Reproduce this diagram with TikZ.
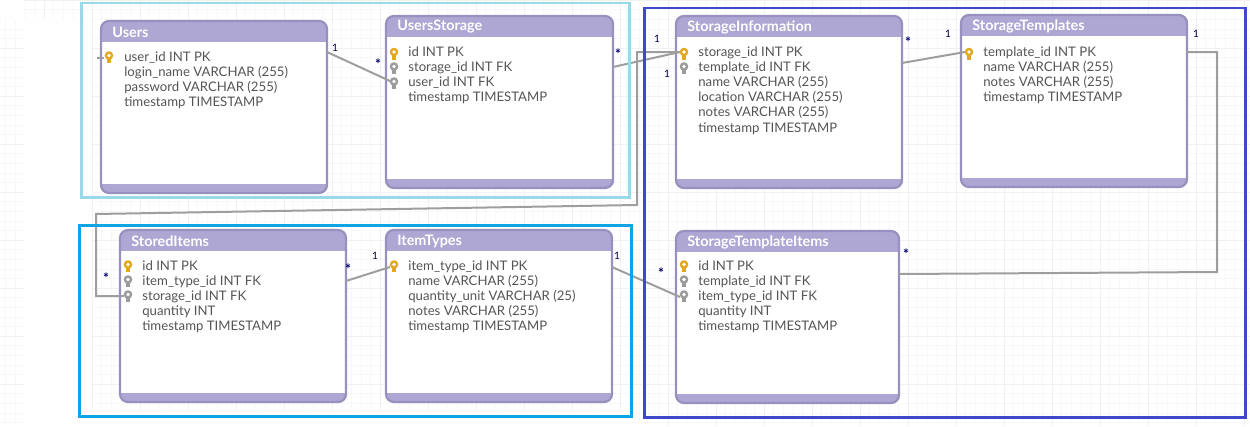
\documentclass[tikz,border=0pt]{standalone}
\usepackage{fontspec}
\setmainfont{Lato}
\usetikzlibrary{positioning}

\definecolor{FrameUsers}{HTML}{99D9EA}
\definecolor{FrameItems}{HTML}{0EA5E4}
\definecolor{FrameStorage}{HTML}{3F48CC}
\definecolor{TableBorder}{HTML}{9890BF}
\definecolor{TableBand}{HTML}{AEA7D3}
\definecolor{KeyGold}{HTML}{E3A81F}
\definecolor{KeyGrey}{HTML}{9B9B9B}
\definecolor{RelLine}{HTML}{9E9E9E}
\definecolor{RowText}{HTML}{555555}
\definecolor{GridFine}{HTML}{F8F8F8}
\definecolor{GridWide}{HTML}{F1F1F1}

\tikzset{
	frame/.style = {line width=0.06cm},
	tablebox/.style = {fill=white, anchor=north west, inner sep=0pt},
	tabletitle/.style = {anchor=west, inner sep=0pt, text=white, font=\fontsize{8.2pt}{10pt}\selectfont\bfseries},
	tablerows/.style = {anchor=north west, inner sep=0pt, text=RowText, align=left, font=\fontsize{7.5pt}{8.65pt}\selectfont},
	rel/.style = {draw=RelLine, line width=0.04cm},
	card/.style = {inner sep=0pt, text=black!75!blue, font=\fontsize{5.8pt}{6pt}\selectfont},
	cardmany/.style = {inner sep=0pt, text=black!60!blue, font=\fontsize{8pt}{8pt}\selectfont\bfseries},
	keyicon/.pic = {
		\fill[pic actions] (0,-3.5) circle (0.086cm);
		\fill[white] (0,-3.5) circle (0.038cm);
		\fill[pic actions] (-1.7,-0.5) rectangle (1.7,4);
	}
}

% box, bands and title of one table: name, x, y, width, title
\newcommand{\dbtable}[5]{
	\node[tablebox, minimum width=#4*0.02cm, minimum height=3.44cm] (#1) at (#2,#3) {};
	\begin{scope}
		\clip[rounded corners=0.16cm] (#2,#3) rectangle (#2+#4,#3+172);
		\fill[TableBand] (#2,#3) rectangle (#2+#4,#3+20.5);
		\fill[TableBand] (#2,#3+163) rectangle (#2+#4,#3+172);
	\end{scope}
	\draw[TableBorder, line width=0.045cm, rounded corners=0.16cm] (#2,#3) rectangle (#2+#4,#3+172);
	\node[tabletitle] (#1Title) at (#2+11,#3+11) {#5};
}

\begin{document}
\begin{tikzpicture}[x=0.02cm, y=-0.02cm]
	
	% ------------------------------------------------
	% Ensure the dimensions of graphic are appropriate
	\useasboundingbox (0,0) rectangle (1250,426);
	
	% ----------------
	% Background grid
	\begin{scope}
		\clip (0,20) rectangle (24,426) (24,0) rectangle (92,19) (92,0) rectangle (632,410) (632,0) rectangle (1250,426);
		\foreach \gx in {-10,...,121}
			\draw[GridFine, line width=0.012cm] (92+\gx*9.6,0) -- (92+\gx*9.6,426);
		\foreach \gy in {0,...,44}
			\draw[GridFine, line width=0.012cm] (0,\gy*9.6) -- (1250,\gy*9.6);
		\foreach \gx in {-2,...,24}
			\draw[GridWide, line width=0.012cm] (92+\gx*48,0) -- (92+\gx*48,426);
		\foreach \gy in {0,...,8}
			\draw[GridWide, line width=0.012cm] (0,\gy*48) -- (1250,\gy*48);
	\end{scope}
	
	% ----------------
	% Tables
	\dbtable{Users}{101}{21}{226}{Users}
	\dbtable{UsersStorage}{386}{16}{227}{UsersStorage}
	\dbtable{StorageInformation}{676}{16}{226}{StorageInformation}
	\dbtable{StorageTemplates}{961}{15}{226}{StorageTemplates}
	\dbtable{StoredItems}{120}{230}{226}{StoredItems}
	\dbtable{ItemTypes}{386}{230}{226}{ItemTypes}
	\dbtable{StorageTemplateItems}{676}{231}{223}{StorageTemplateItems}
	
	% ----------------
	% Rows
	\node[tablerows] (UsersRows) at (124,51) {user\_id INT PK\\login\_name VARCHAR (255)\\password VARCHAR (255)\\timestamp TIMESTAMP};
	\node[tablerows] (UsersStorageRows) at (408,46) {id INT PK\\storage\_id INT FK\\user\_id INT FK\\timestamp TIMESTAMP};
	\node[tablerows] (StorageInformationRows) at (698,46) {storage\_id INT PK\\template\_id INT FK\\name VARCHAR (255)\\location VARCHAR (255)\\notes VARCHAR (255)\\timestamp TIMESTAMP};
	\node[tablerows] (StorageTemplatesRows) at (983,46) {template\_id INT PK\\name VARCHAR (255)\\notes VARCHAR (255)\\timestamp TIMESTAMP};
	\node[tablerows] (StoredItemsRows) at (142,260) {id INT PK\\item\_type\_id INT FK\\storage\_id INT FK\\quantity INT\\timestamp TIMESTAMP};
	\node[tablerows] (ItemTypesRows) at (408,260) {item\_type\_id INT PK\\name VARCHAR (255)\\quantity\_unit VARCHAR (25)\\notes VARCHAR (255)\\timestamp TIMESTAMP};
	\node[tablerows] (StorageTemplateItemsRows) at (698,260) {id INT PK\\template\_id INT FK\\item\_type\_id INT FK\\quantity INT\\timestamp TIMESTAMP};
	
	% ----------------
	% Relevant coordinates
	\coordinate (UsersStub) at (97,58);
	\coordinate (UsersKey) at (104,58);
	\coordinate (UsersOut) at (327,52);
	\coordinate (UserIdKey) at (390,81);
	\coordinate (StorageOut) at (613,67);
	\coordinate (StorageKey) at (680,52);
	\coordinate (InfoOut) at (902,63);
	\coordinate (TemplateKey) at (965,52);
	\coordinate (TemplateOut) at (1187,52);
	\coordinate (TemplateItemsOut) at (899,274);
	\coordinate (StoredStorageKey) at (124,296);
	\coordinate (StoredOut) at (346,281);
	\coordinate (TypeKey) at (390,267);
	\coordinate (TypeOut) at (612,267);
	\coordinate (ItemTypeKey) at (680,297);
	
	% ----------------
	% Relations
	\draw[rel] (UsersStub) -- (UsersKey);
	\draw[rel] (UsersOut) -- (UserIdKey);
	\draw[rel] (StorageOut) -- (StorageKey);
	\draw[rel] (InfoOut) -- (TemplateKey);
	\draw[rel] (TemplateOut) -- (1217,52) -- (1217,272) -- (TemplateItemsOut);
	\draw[rel] (StorageKey) -- (637,52) -- (637,205) -- (96,214) -- (96,296) -- (StoredStorageKey);
	\draw[rel] (StoredOut) -- (TypeKey);
	\draw[rel] (TypeOut) -- (ItemTypeKey);
	
	% ----------------
	% Keys
	\foreach \kx/\ky in {109/59, 394/55.5, 684/55.5, 969/55.5, 128/268, 394/268, 684/268}
		\pic[fill=KeyGold] at (\kx,\ky) {keyicon};
	\foreach \kx/\ky in {394/70, 394/85, 684/70, 128/283, 128/298, 684/283, 684/298}
		\pic[fill=KeyGrey] at (\kx,\ky) {keyicon};
	
	% ----------------
	% Cardinalities
	\node[card] (CardA) at (335,48) {1};
	\node[cardmany] (CardB) at (378,64) {*};
	\node[cardmany] (CardC) at (618,54) {*};
	\node[card] (CardD) at (657,39) {1};
	\node[card] (CardE) at (667,74) {1};
	\node[cardmany] (CardF) at (908,42) {*};
	\node[card] (CardG) at (948,34) {1};
	\node[card] (CardH) at (1196,34) {1};
	\node[cardmany] (CardI) at (906,254) {*};
	\node[cardmany] (CardJ) at (661,273) {*};
	\node[card] (CardK) at (617,256) {1};
	\node[card] (CardL) at (375,256) {1};
	\node[cardmany] (CardM) at (348,269) {*};
	\node[cardmany] (CardN) at (106,278) {*};
	
	% ----------------
	% Frames
	\draw[frame, FrameUsers] (81,3) rectangle (629,197);
	\draw[frame, FrameItems] (79,225) rectangle (631,416);
	\draw[frame, FrameStorage] (644,8) rectangle (1245,417);
	
\end{tikzpicture}
\end{document}
